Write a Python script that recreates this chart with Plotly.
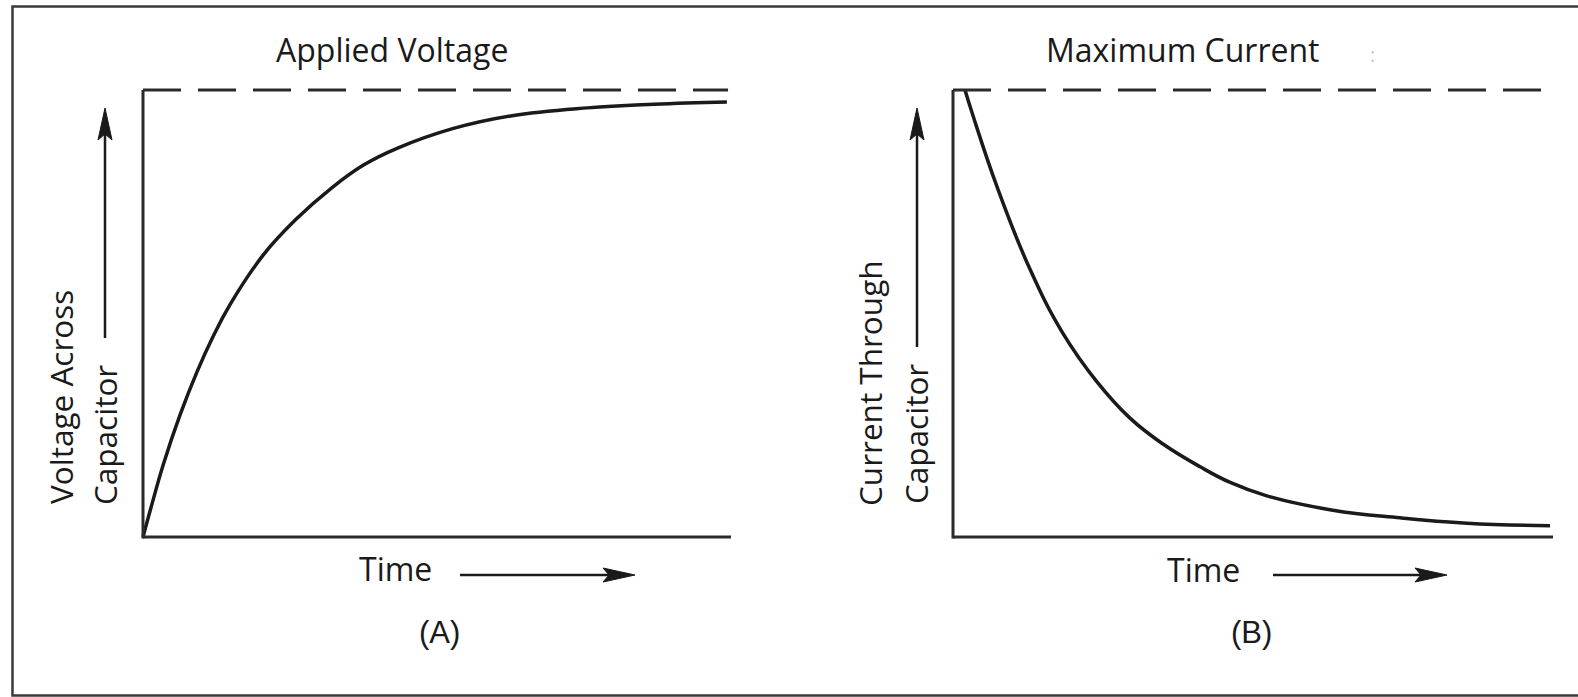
import plotly.graph_objects as go

# ---------------- data ----------------
# Panel A: voltage across capacitor (fraction of applied voltage) vs time (arbitrary units 0..10)
time_a = [0.0, 0.17, 0.34, 0.63, 0.92, 1.19, 1.48, 2.04, 2.62, 3.19, 3.75, 4.33, 5.28, 6.25, 7.56, 8.69, 9.93]
voltage_a = [0.0, 0.082, 0.160, 0.273, 0.370, 0.448, 0.520, 0.630, 0.713, 0.779, 0.832, 0.870, 0.914, 0.942, 0.960, 0.968, 0.973]

# Panel B: current through capacitor (fraction of maximum current) vs time
time_b = [0.2, 0.33, 0.73, 1.28, 1.83, 2.40, 2.95, 3.50, 4.12, 4.62, 5.23, 6.33, 7.45, 8.57, 9.95]
current_b = [1.0, 0.944, 0.785, 0.600, 0.456, 0.347, 0.266, 0.208, 0.157, 0.122, 0.092, 0.060, 0.043, 0.031, 0.025]

applied_level = 1.0      # dashed "Applied Voltage" line
max_current_level = 1.0  # dashed "Maximum Current" line
dash_end_a = 9.95
dash_end_b = 9.85

titles = ["Applied Voltage", "Maximum Current"]
ylabels_a = ["Voltage Across", "Capacitor"]
ylabels_b = ["Current Through", "Capacitor"]
xlabel = "Time"
panel_tags = ["(A)", "(B)"]

# ---------------- layout geometry (pixels) ----------------
W, H = 1578, 697
FONT = "Open Sans"
INK = "#1a1a1a"
AX = "#2a2a2a"


def px(x):
    return x / W


def py(y):
    return 1 - y / H


A_L, A_R, A_B, A_T = 143, 731, 537, 90
B_L, B_R, B_B, B_T = 953, 1553, 537, 90
XPAD, YLO, YHI = 0.2, 0.05, 1.1


def xdom(l, r):
    ppu = (r - l) / 10.0
    return [px(l - XPAD * ppu), px(r + XPAD * ppu)]


def ydom(b, t):
    ppu = (b - t) / 1.0
    return [py(b + YLO * ppu), py(b - YHI * ppu)]


fig = go.Figure()

fig.add_trace(go.Scatter(x=time_a, y=voltage_a, mode="lines",
                         line=dict(color=INK, width=3.5, shape="spline", smoothing=1.2),
                         xaxis="x", yaxis="y", showlegend=False, hoverinfo="skip"))
fig.add_trace(go.Scatter(x=time_b, y=current_b, mode="lines",
                         line=dict(color=INK, width=3.5, shape="spline", smoothing=1.2),
                         xaxis="x2", yaxis="y2", showlegend=False, hoverinfo="skip"))

axis_common = dict(showline=False, showgrid=False, zeroline=False, showticklabels=False, ticks="", fixedrange=True)
fig.update_layout(
    width=W, height=H,
    margin=dict(l=0, r=0, t=0, b=0),
    paper_bgcolor="white", plot_bgcolor="white",
    xaxis=dict(domain=xdom(A_L, A_R), range=[-XPAD, 10 + XPAD], anchor="y", **axis_common),
    yaxis=dict(domain=ydom(A_B, A_T), range=[-YLO, YHI], anchor="x", **axis_common),
    xaxis2=dict(domain=xdom(B_L, B_R), range=[-XPAD, 10 + XPAD], anchor="y2", **axis_common),
    yaxis2=dict(domain=ydom(B_B, B_T), range=[-YLO, YHI], anchor="x2", **axis_common),
    showlegend=False,
)

shapes = []
# outer frame (right side runs off the image)
shapes.append(dict(type="rect", xref="paper", yref="paper", x0=px(12.5), x1=px(1600), y0=py(695.5), y1=py(6.5),
                   line=dict(color="#3a3a3a", width=2.5), fillcolor="rgba(0,0,0,0)", layer="above"))
# axis lines
for (l, r, b, t) in [(A_L, A_R, A_B, A_T), (B_L, B_R, B_B, B_T)]:
    shapes.append(dict(type="line", xref="paper", yref="paper", x0=px(l), x1=px(r), y0=py(b), y1=py(b),
                       line=dict(color=AX, width=3)))
    shapes.append(dict(type="line", xref="paper", yref="paper", x0=px(l), x1=px(l), y0=py(b + 1.5), y1=py(t),
                       line=dict(color=AX, width=3)))
# dashed reference lines
shapes.append(dict(type="line", xref="x", yref="y", x0=0, x1=dash_end_a, y0=applied_level, y1=applied_level,
                   line=dict(color=AX, width=3, dash="38px,17px")))
shapes.append(dict(type="line", xref="x2", yref="y2", x0=0, x1=dash_end_b, y0=max_current_level, y1=max_current_level,
                   line=dict(color=AX, width=3, dash="38px,17px")))


def v_arrow(x, y_tail, y_tip):
    shapes.append(dict(type="line", xref="paper", yref="paper", x0=px(x), x1=px(x), y0=py(y_tail), y1=py(y_tip + 25),
                       line=dict(color=INK, width=2.5)))
    path = "M {},{} L {},{} L {},{} L {},{} Z".format(
        px(x), py(y_tip), px(x - 7), py(y_tip + 32), px(x), py(y_tip + 26), px(x + 7), py(y_tip + 32))
    shapes.append(dict(type="path", xref="paper", yref="paper", path=path, fillcolor=INK, line=dict(color=INK, width=1)))


def h_arrow(y, x_tail, x_tip):
    shapes.append(dict(type="line", xref="paper", yref="paper", x0=px(x_tail), x1=px(x_tip - 25), y0=py(y), y1=py(y),
                       line=dict(color=INK, width=2.5)))
    path = "M {},{} L {},{} L {},{} L {},{} Z".format(
        px(x_tip), py(y), px(x_tip - 32), py(y - 7), px(x_tip - 26), py(y), px(x_tip - 32), py(y + 7))
    shapes.append(dict(type="path", xref="paper", yref="paper", path=path, fillcolor=INK, line=dict(color=INK, width=1)))


v_arrow(105, 338, 108)
v_arrow(917, 347, 108)
h_arrow(575, 460, 635)
h_arrow(575, 1273, 1447)

fig.update_layout(shapes=shapes)

ann = []


def text(s, x, y, size=32, angle=0, color=INK, family=FONT):
    ann.append(dict(text=s, x=px(x), y=py(y), xref="paper", yref="paper", showarrow=False,
                    xanchor="center", yanchor="middle", textangle=angle,
                    font=dict(family=family, size=size, color=color)))


text(titles[0], 392, 49)
text(titles[1], 1183, 49)
text(":", 1372, 55, size=20, color="#c8c8c8")
text(ylabels_a[0], 60, 397, angle=-90, size=31.5)
text(ylabels_a[1], 104, 435, angle=-90, size=31.5)
text(ylabels_b[0], 870, 383, angle=-90, size=31.5)
text(ylabels_b[1], 915, 434, angle=-90, size=31.5)
text(xlabel, 396, 568)
text(xlabel, 1203, 569)
text(panel_tags[0], 439, 632, size=31, family="Liberation Sans")
text(panel_tags[1], 1251, 632, size=31, family="Liberation Sans")

fig.update_layout(annotations=ann)

fig.write_html("out.html", config={"displayModeBar": False},
               post_script="document.body.style.margin='0';document.body.style.overflow='hidden';")
